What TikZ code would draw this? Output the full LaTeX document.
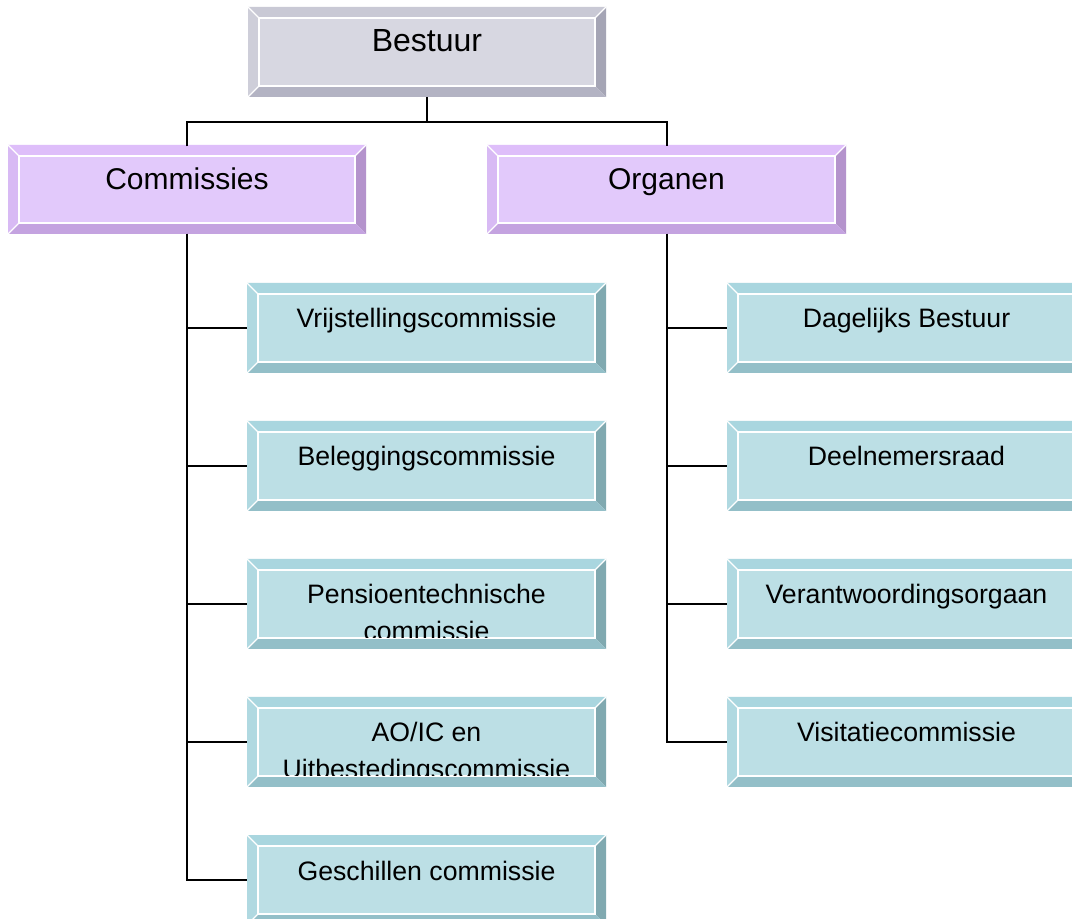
\documentclass[tikz,border=0pt]{standalone}
\usepackage{fontspec}
\setmainfont{Liberation Sans}
\usetikzlibrary{calc}
\definecolor{grFace}{RGB}{215,215,225}
\definecolor{grTop}{RGB}{201,201,213}
\definecolor{grLeft}{RGB}{206,206,217}
\definecolor{grRight}{RGB}{165,165,181}
\definecolor{grBottom}{RGB}{179,179,195}
\definecolor{puFace}{RGB}{226,201,251}
\definecolor{puTop}{RGB}{222,190,250}
\definecolor{puLeft}{RGB}{216,186,244}
\definecolor{puRight}{RGB}{180,147,204}
\definecolor{puBottom}{RGB}{196,163,224}
\definecolor{blFace}{RGB}{188,223,229}
\definecolor{blTop}{RGB}{169,214,223}
\definecolor{blLeft}{RGB}{176,217,225}
\definecolor{blRight}{RGB}{128,169,176}
\definecolor{blBottom}{RGB}{147,191,200}
\newcommand{\lvA}{\fontsize{24}{28}\selectfont}
\newcommand{\lvB}{\fontsize{22.5}{27}\selectfont}
\newcommand{\lvC}{\fontsize{20}{27.5}\selectfont}
\tikzset{
  conn/.style={draw=black, line width=1.5pt},
  lbl/.style={anchor=base, inner sep=0pt, outer sep=0pt, text=black},
  hilite/.style={draw=white, line width=0.9pt},
}
% #1 name, #2 x0, #3 y0, #4 x1, #5 y1, #6 colour prefix, #7 text
\newcommand{\bevbox}[7]{%
  \fill[#6Top] (#2,#3) -- (#4,#3) -- ({#4-11},{#3+11}) -- ({#2+11},{#3+11}) -- cycle;
  \fill[#6Left] (#2,#3) -- ({#2+11},{#3+11}) -- ({#2+11},{#5-11}) -- (#2,#5) -- cycle;
  \fill[#6Right] (#4,#3) -- ({#4-11},{#3+11}) -- ({#4-11},{#5-11}) -- (#4,#5) -- cycle;
  \fill[#6Bottom] (#2,#5) -- ({#2+11},{#5-11}) -- ({#4-11},{#5-11}) -- (#4,#5) -- cycle;
  \fill[#6Face] ({#2+11},{#3+11}) rectangle ({#4-11},{#5-11});
  \draw[hilite] ({#2+11},{#3+11}) rectangle ({#4-11},{#5-11});
  \draw[hilite] (#2,#3) -- ({#2+11},{#3+11});
  \draw[hilite] (#2,#5) -- ({#2+11},{#5-11});
  \draw[hilite] (#4,#3) -- ({#4-11},{#3+11});
  \node[inner sep=0pt, outer sep=0pt, minimum width={(#4-#2)*0.75pt}, minimum height={(#5-#3)*0.75pt}] (#1) at ({(#2+#4)/2},{(#3+#5)/2}) {};
  \begin{scope}
    \clip ({#2+11},{#3+11}) rectangle ({#4-11},{#5-11});
    \node[lbl] (#1-txt) at ({(#2+#4)/2},{(#3+#5)/2}) {#7};
  \end{scope}
}
\begin{document}
\begin{tikzpicture}[x=0.75pt, y=-0.75pt]
\clip (0,0) rectangle (1072,919);
\fill[white] (0,0) rectangle (1072,919);
% level 0
\bevbox{bestuur}{248}{7}{606}{97}{gr}{\lvA Bestuur}
% level 1
\bevbox{comm}{8}{145}{366}{234}{pu}{\lvB Commissies}
\bevbox{org}{487}{145}{846}{234}{pu}{\lvB Organen}
% commissies
\bevbox{c1}{247}{283}{606}{373}{bl}{\lvC Vrijstellingscommissie}
\bevbox{c2}{247}{421}{606}{511}{bl}{\lvC Beleggingscommissie}
\bevbox{c3}{247}{559}{606}{649}{bl}{\lvC\begin{tabular}[t]{@{}c@{}}Pensioentechnische\\commissie\end{tabular}}
\bevbox{c4}{247}{697}{606}{787}{bl}{\lvC\begin{tabular}[t]{@{}c@{}}AO/IC en\\Uitbestedingscommissie\end{tabular}}
\bevbox{c5}{247}{835}{606}{925}{bl}{\lvC Geschillen commissie}
% organen
\bevbox{o1}{727}{283}{1086}{373}{bl}{\lvC Dagelijks Bestuur}
\bevbox{o2}{727}{421}{1086}{511}{bl}{\lvC Deelnemersraad}
\bevbox{o3}{727}{559}{1086}{649}{bl}{\lvC Verantwoordingsorgaan}
\bevbox{o4}{727}{697}{1086}{787}{bl}{\lvC Visitatiecommissie}
% connectors
\coordinate (j) at (427,122);
\draw[conn] (bestuur.south) -- (j);
\draw[conn] ([yshift=-1pt]comm.north) |- (j) -| ([yshift=-1pt]org.north);
\foreach \b in {c1,c2,c3,c4,c5} \draw[conn] (comm.south) |- (\b.west);
\foreach \b in {o1,o2,o3,o4} \draw[conn] (org.south) |- (\b.west);
\end{tikzpicture}
\end{document}
